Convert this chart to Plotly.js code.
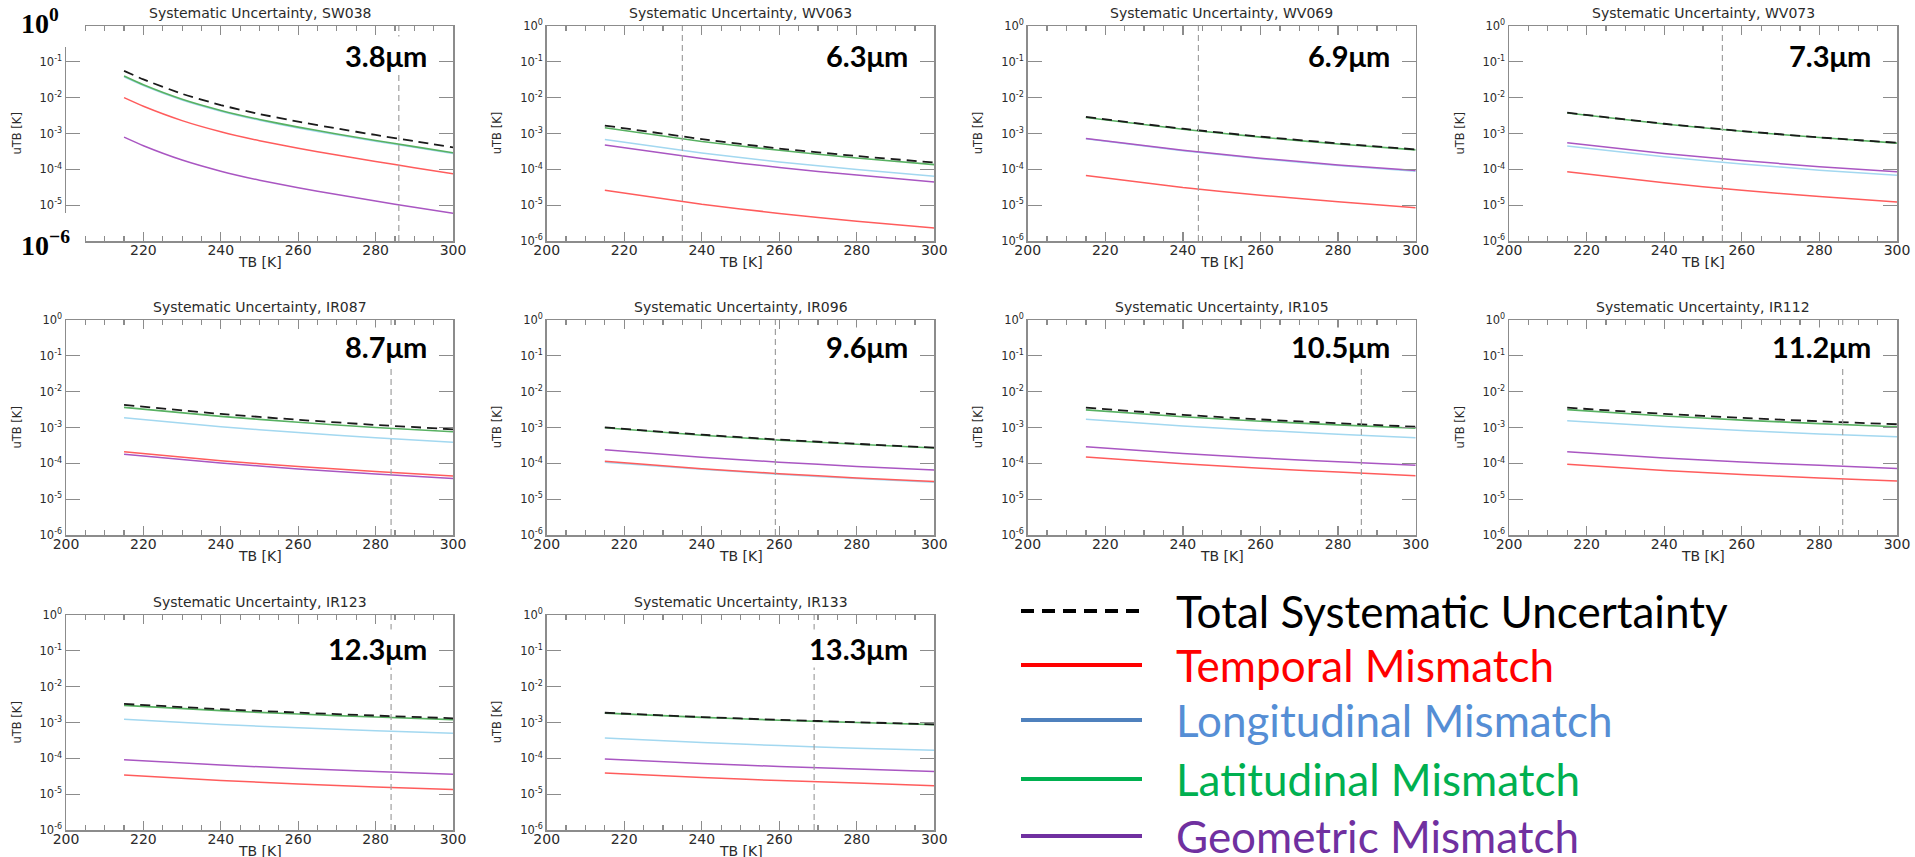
<!DOCTYPE html>
<html>
<head>
<meta charset="utf-8">
<script src="https://cdn.plot.ly/plotly-3.0.1.min.js"></script>
<style>
  html, body { margin: 0; padding: 0; background: #ffffff; }
  #chart { width: 1915px; height: 857px; }
</style>
</head>
<body>
<div id="chart"></div>
<script>
// ---------------- DATA ----------------
const channels = ['SW038', 'WV063', 'WV069', 'WV073', 'IR087', 'IR096', 'IR105', 'IR112', 'IR123', 'IR133'];
const wavelengthLabels = ['3.8μm', '6.3μm', '6.9μm', '7.3μm', '8.7μm', '9.6μm', '10.5μm', '11.2μm', '12.3μm', '13.3μm'];
const vlineTB = [286, 235, 244, 255, 284, 259, 286, 286, 284, 269];

const tbFine = [215, 220, 230, 240, 250, 260, 270, 280, 290, 300];   // SW038
const tbCoarse = [215, 240, 260, 280, 300];                           // other channels

const xTickVals = [200, 220, 240, 260, 280, 300];
const xTickText = ['200', '220', '240', '260', '280', '300'];
const yTickVals = [1e-6, 1e-5, 1e-4, 1e-3, 1e-2, 1e-1, 1];
const yTickText = ['10<sup>-6</sup>', '10<sup>-5</sup>', '10<sup>-4</sup>', '10<sup>-3</sup>', '10<sup>-2</sup>', '10<sup>-1</sup>', '10<sup>0</sup>'];

const totalUnc = [
  [5.6e-2, 3.23e-2, 1.28e-2, 6.2e-3, 3.5e-3, 2.14e-3, 1.38e-3, 9.1e-4, 6.1e-4, 4.1e-4],
  [1.67e-3, 7.0e-4, 3.8e-4, 2.35e-4, 1.55e-4],
  [2.9e-3, 1.36e-3, 8.2e-4, 5.3e-4, 3.6e-4],
  [3.8e-3, 1.87e-3, 1.17e-3, 7.8e-4, 5.5e-4],
  [4.26e-3, 2.4e-3, 1.64e-3, 1.18e-3, 8.9e-4],
  [1.01e-3, 6.3e-4, 4.6e-4, 3.5e-4, 2.75e-4],
  [3.57e-3, 2.26e-3, 1.68e-3, 1.31e-3, 1.05e-3],
  [3.57e-3, 2.4e-3, 1.86e-3, 1.49e-3, 1.23e-3],
  [3.3e-3, 2.36e-3, 1.89e-3, 1.56e-3, 1.31e-3],
  [1.87e-3, 1.42e-3, 1.19e-3, 1.02e-3, 8.9e-4]
];
const temporalMismatch = [
  [1.0e-2, 5.75e-3, 2.29e-3, 1.12e-3, 6.3e-4, 3.9e-4, 2.5e-4, 1.66e-4, 1.11e-4, 7.5e-5],
  [2.6e-5, 1.06e-5, 5.9e-6, 3.55e-6, 2.3e-6],
  [6.7e-5, 3.1e-5, 1.9e-5, 1.24e-5, 8.5e-6],
  [8.5e-5, 4.2e-5, 2.6e-5, 1.75e-5, 1.23e-5],
  [2.1e-4, 1.18e-4, 8.1e-5, 5.9e-5, 4.4e-5],
  [1.14e-4, 7.1e-5, 5.15e-5, 3.9e-5, 3.1e-5],
  [1.5e-4, 9.7e-5, 7.3e-5, 5.7e-5, 4.5e-5],
  [9.4e-5, 6.3e-5, 4.9e-5, 3.9e-5, 3.2e-5],
  [3.4e-5, 2.42e-5, 1.93e-5, 1.59e-5, 1.34e-5],
  [3.9e-5, 2.9e-5, 2.4e-5, 2.05e-5, 1.73e-5]
];
const longitudinalMismatch = [
  [3.8e-2, 2.17e-2, 8.6e-3, 4.2e-3, 2.34e-3, 1.43e-3, 9.2e-4, 6.1e-4, 4.1e-4, 2.75e-4],
  [6.8e-4, 2.85e-4, 1.6e-4, 9.9e-5, 6.4e-5],
  [7.1e-4, 3.3e-4, 1.98e-4, 1.28e-4, 8.8e-5],
  [4.5e-4, 2.23e-4, 1.41e-4, 9.5e-5, 6.8e-5],
  [1.87e-3, 1.05e-3, 7.2e-4, 5.2e-4, 3.9e-4],
  [1.07e-4, 6.8e-5, 4.95e-5, 3.75e-5, 2.95e-5],
  [1.7e-3, 1.1e-3, 8.3e-4, 6.5e-4, 5.2e-4],
  [1.55e-3, 1.06e-3, 8.2e-4, 6.6e-4, 5.5e-4],
  [1.23e-3, 8.8e-4, 7.1e-4, 5.9e-4, 5.0e-4],
  [3.7e-4, 2.76e-4, 2.27e-4, 1.92e-4, 1.67e-4]
];
const latitudinalMismatch = [
  [4.0e-2, 2.28e-2, 9.0e-3, 4.4e-3, 2.46e-3, 1.51e-3, 9.7e-4, 6.4e-4, 4.3e-4, 2.9e-4],
  [1.44e-3, 6.0e-4, 3.4e-4, 2.07e-4, 1.35e-4],
  [2.8e-3, 1.32e-3, 7.9e-4, 5.1e-4, 3.5e-4],
  [3.75e-3, 1.84e-3, 1.15e-3, 7.7e-4, 5.4e-4],
  [3.65e-3, 2.04e-3, 1.4e-3, 1.0e-3, 7.6e-4],
  [9.8e-4, 6.1e-4, 4.45e-4, 3.4e-4, 2.68e-4],
  [3.1e-3, 2.0e-3, 1.5e-3, 1.18e-3, 9.5e-4],
  [3.15e-3, 2.1e-3, 1.61e-3, 1.28e-3, 1.05e-3],
  [3.0e-3, 2.15e-3, 1.72e-3, 1.42e-3, 1.2e-3],
  [1.83e-3, 1.39e-3, 1.16e-3, 1.0e-3, 8.7e-4]
];
const geometricMismatch = [
  [7.9e-4, 4.56e-4, 1.82e-4, 8.9e-5, 4.97e-5, 3.06e-5, 1.98e-5, 1.3e-5, 8.7e-6, 5.9e-6],
  [4.8e-4, 2.0e-4, 1.12e-4, 6.9e-5, 4.4e-5],
  [7.3e-4, 3.4e-4, 2.05e-4, 1.33e-4, 9.3e-5],
  [5.5e-4, 2.77e-4, 1.76e-4, 1.19e-4, 8.5e-5],
  [1.8e-4, 1.02e-4, 7.0e-5, 5.0e-5, 3.8e-5],
  [2.4e-4, 1.48e-4, 1.08e-4, 8.2e-5, 6.5e-5],
  [2.9e-4, 1.87e-4, 1.41e-4, 1.1e-4, 8.9e-5],
  [2.1e-4, 1.42e-4, 1.09e-4, 8.8e-5, 7.2e-5],
  [9.2e-5, 6.5e-5, 5.2e-5, 4.3e-5, 3.6e-5],
  [9.6e-5, 7.2e-5, 5.9e-5, 5.0e-5, 4.3e-5]
];

const legendLabels = ['Total Systematic Uncertainty', 'Temporal Mismatch', 'Longitudinal Mismatch', 'Latitudinal Mismatch', 'Geometric Mismatch'];

// ---------------- STYLE / LAYOUT ----------------
const W = 1915, H = 857;
const colPx = [[66, 453], [546.7, 934.3], [1027.7, 1415.7], [1509, 1897]];
const rowPx = [[26, 241], [320, 535], [615, 830]];
const axisColor = '#8c8c8c';
const textColor = '#2a2a2a';
const seriesStyle = {
  lon:   { color: '#a3d8f0', width: 1.5 },
  temp:  { color: '#ff5c5c', width: 1.5 },
  geo:   { color: '#a956c2', width: 1.5 },
  lat:   { color: '#58b162', width: 1.6 },
  total: { color: '#1a1a1a', width: 1.8, dash: '10px,6px' }
};
const legendTextColors = ['#000000', '#ff0000', '#558ed5', '#00b050', '#7030a0'];
const legendLineColors = ['#000000', '#ff0000', '#4f81bd', '#00b050', '#7030a0'];
const legendRowY = [611, 665, 720, 779, 836];

const traces = [];
const layout = {
  width: W, height: H,
  margin: { l: 0, r: 0, t: 0, b: 0 },
  paper_bgcolor: '#ffffff', plot_bgcolor: '#ffffff',
  showlegend: false,
  font: { family: 'DejaVu Sans', color: textColor },
  shapes: [], annotations: []
};

channels.forEach((ch, i) => {
  const s = i === 0 ? '' : String(i + 1);
  const row = Math.floor(i / 4), col = i % 4;
  const xs = i === 0 ? tbFine : tbCoarse;
  const series = [
    ['lon', longitudinalMismatch[i], 'Longitudinal Mismatch'],
    ['temp', temporalMismatch[i], 'Temporal Mismatch'],
    ['geo', geometricMismatch[i], 'Geometric Mismatch'],
    ['lat', latitudinalMismatch[i], 'Latitudinal Mismatch'],
    ['total', totalUnc[i], 'Total Systematic Uncertainty']
  ];
  series.forEach(([key, ys, name]) => {
    traces.push({
      type: 'scatter', mode: 'lines', x: xs, y: ys, name: name,
      xaxis: 'x' + s, yaxis: 'y' + s,
      line: Object.assign({ shape: 'spline', smoothing: 0.5 }, seriesStyle[key]),
      hoverinfo: 'x+y+name'
    });
  });

  // the first panel's end labels are hidden by the white boxes in the reference
  const xText = i === 0 ? [''].concat(xTickText.slice(1)) : xTickText;
  const yText = i === 0 ? [''].concat(yTickText.slice(1, -1), ['']) : yTickText;

  const cx = colPx[col], ry = rowPx[row];
  layout['xaxis' + s] = {
    domain: [cx[0] / W, cx[1] / W], anchor: 'y' + s,
    range: [200, 300], tickmode: 'array', tickvals: xTickVals, ticktext: xText,
    ticks: 'inside', ticklen: 9, tickwidth: 1.2, tickcolor: axisColor,
    showline: true, linecolor: axisColor, linewidth: 1.5, mirror: 'ticks',
    showgrid: false, zeroline: false, ticklabelstandoff: -4,
    minor: { tickmode: 'linear', tick0: 200, dtick: 5, ticks: 'inside', ticklen: 5, tickwidth: 1.2, tickcolor: axisColor, showgrid: false },
    tickfont: { family: 'DejaVu Sans', size: 14, color: textColor },
    fixedrange: true
  };
  layout['yaxis' + s] = {
    domain: [1 - ry[1] / H, 1 - ry[0] / H], anchor: 'x' + s,
    type: 'log', range: [-6, 0], tickmode: 'array', tickvals: yTickVals, ticktext: yText,
    ticks: 'inside', ticklen: 14, tickwidth: 1.2, tickcolor: axisColor,
    showline: true, linecolor: axisColor, linewidth: 1.5, mirror: 'ticks',
    showgrid: false, zeroline: false, ticklabelstandoff: 0,
    tickfont: { family: 'DejaVu Sans', size: 11.5, color: textColor },
    fixedrange: true
  };

  // vertical dashed reference line
  layout.shapes.push({
    type: 'line', xref: 'x' + s, yref: 'y' + s + ' domain',
    x0: vlineTB[i], x1: vlineTB[i], y0: 0, y1: 1,
    line: { color: '#a0a0a0', width: 1.2, dash: '6px,4px' }
  });

  // subplot title
  layout.annotations.push({
    xref: 'x' + s + ' domain', yref: 'y' + s + ' domain', x: 0.5, y: 1, yshift: 13,
    xanchor: 'center', yanchor: 'middle', showarrow: false,
    text: 'Systematic Uncertainty, ' + ch,
    font: { family: 'DejaVu Sans', size: 14, color: textColor }
  });
  // x-axis title
  layout.annotations.push({
    xref: 'x' + s + ' domain', yref: 'y' + s + ' domain', x: 0.5, y: 0, yshift: -21,
    xanchor: 'center', yanchor: 'middle', showarrow: false,
    text: 'TB [K]', font: { family: 'DejaVu Sans', size: 14, color: textColor }
  });
  // y-axis title
  layout.annotations.push({
    xref: 'x' + s + ' domain', yref: 'y' + s + ' domain', x: 0, xshift: -50, y: 0.5,
    xanchor: 'center', yanchor: 'middle', showarrow: false, textangle: -90,
    text: 'uTB [K]', font: { family: 'DejaVu Sans', size: 11.5, color: textColor }
  });

  // wavelength label
  const offTop = row === 2 ? 33 : (row === 1 ? 26 : 29);
  layout.annotations.push({
    xref: 'x' + s + ' domain', yref: 'y' + s + ' domain',
    x: 1 - 24 / (cx[1] - cx[0]), y: 1 - offTop / (ry[1] - ry[0]),
    xanchor: 'right', yanchor: 'middle', showarrow: false,
    text: wavelengthLabels[i], bgcolor: '#ffffff', borderpad: 1,
    font: { family: 'Lato', size: 29, color: '#000000', weight: 700 }
  });
});

// white cover boxes & big exponent labels on the first panel
layout.shapes.push(
  { type: 'rect', xref: 'paper', yref: 'paper', x0: 0, x1: 85 / W, y0: 1 - 47 / H, y1: 1, fillcolor: '#ffffff', line: { width: 0 }, layer: 'above' },
  { type: 'rect', xref: 'paper', yref: 'paper', x0: 0, x1: 85 / W, y0: 1 - 262 / H, y1: 1 - 213 / H, fillcolor: '#ffffff', line: { width: 0 }, layer: 'above' }
);
layout.annotations.push(
  { xref: 'paper', yref: 'paper', x: 19 / W, y: 1 - 22 / H, xanchor: 'left', yanchor: 'middle', showarrow: false,
    text: '10<sup>0</sup>', font: { family: 'Liberation Serif', size: 28, color: '#000000', weight: 700 } },
  { xref: 'paper', yref: 'paper', x: 19 / W, y: 1 - 243 / H, xanchor: 'left', yanchor: 'middle', showarrow: false,
    text: '10<sup>−6</sup>', font: { family: 'Liberation Serif', size: 28, color: '#000000', weight: 700 } }
);

// custom legend
legendLabels.forEach((lab, k) => {
  const yp = 1 - legendRowY[k] / H;
  layout.shapes.push({
    type: 'line', xref: 'paper', yref: 'paper', x0: 1021 / W, x1: 1142 / W, y0: yp, y1: yp,
    line: { color: legendLineColors[k], width: 4, dash: k === 0 ? '13px,8px' : 'solid' }
  });
  layout.annotations.push({
    xref: 'paper', yref: 'paper', x: 1174 / W, y: yp, xanchor: 'left', yanchor: 'middle', showarrow: false,
    text: lab, font: { family: 'Lato', size: 44, color: legendTextColors[k] }
  });
});

Plotly.newPlot('chart', traces, layout, { displayModeBar: false, staticPlot: true });
</script>
</body>
</html>
